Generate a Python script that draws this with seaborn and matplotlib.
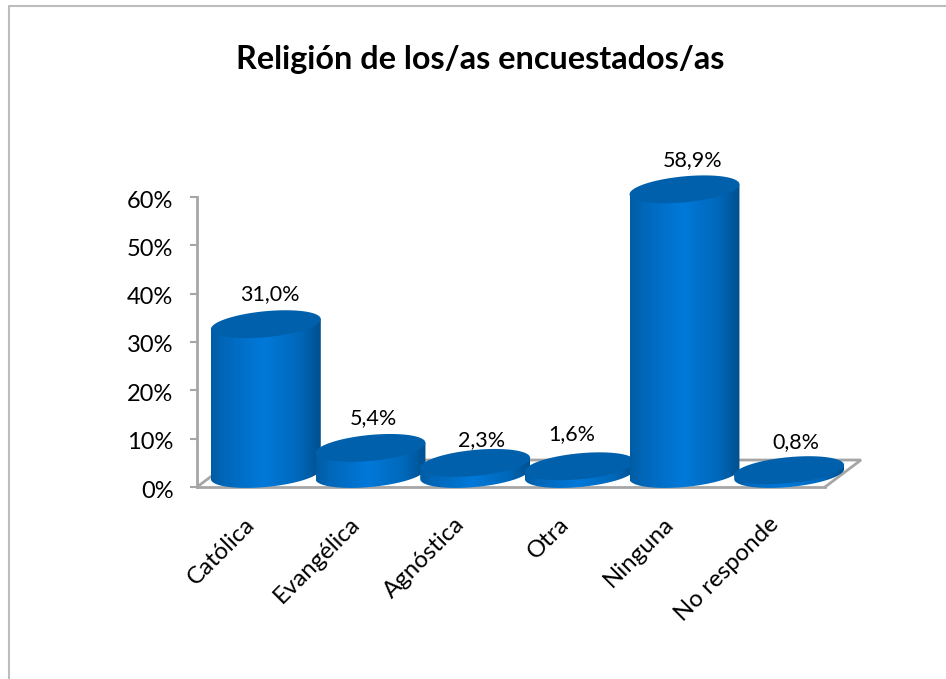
import numpy as np
import pandas as pd
import matplotlib
matplotlib.use("Agg")
import matplotlib.pyplot as plt
from matplotlib.colors import LinearSegmentedColormap
from matplotlib.lines import Line2D
from matplotlib.patches import Polygon
from matplotlib.transforms import ScaledTranslation
import seaborn as sns

# Values
categories = ["Católica", "Evangélica", "Agnóstica", "Otra", "Ninguna", "No responde"]
values = [31.0, 5.4, 2.3, 1.6, 58.9, 0.8]
value_labels = ["31,0%", "5,4%", "2,3%", "1,6%", "58,9%", "0,8%"]
y_ticks = [0, 10, 20, 30, 40, 50, 60]

sns.set_theme(style="white")
plt.rcParams["font.family"] = ["Lato", "DejaVu Sans"]

GREY = "#a6a6a6"
TOP = "#0060ac"
W, H = 946, 679

fig = plt.figure(figsize=(W / 100, H / 100), dpi=100)
ax = fig.add_axes([197 / W, 1 - 487 / H, 628 / W, 290 / H])

df = pd.DataFrame({"religion": categories, "pct": values})
sns.barplot(data=df, x="religion", y="pct", width=1.05, ax=ax)
ax.set_xlim(-0.5, 5.5)
ax.set_ylim(0, 60)

# pixels to data units
px = 6 / 628
py = 60 / 290

# depth of the 3d floor, bars stand half way in
depth_x, depth_y = 36 * px, 27 * py
shift_x, shift_y = 16.5 * px, 13 * py

# floor outline
floor_x = [-0.5, -0.5 + depth_x, 5.5 + depth_x, 5.5]
floor_y = [0, depth_y, depth_y, 0]
ax.plot(floor_x, floor_y, color=GREY, lw=2, clip_on=False, zorder=1, solid_joinstyle="miter")

shade = LinearSegmentedColormap.from_list(
    "cyl",
    [(0, "#005ca3"), (0.12, "#0067b9"), (0.48, "#0079da"), (0.8, "#0068ba"), (1, "#00508f")],
)
grad = shade(np.linspace(0, 1, 256))[None, :, :]
t = np.linspace(0, 2 * np.pi, 181)

bars = list(ax.patches)
for i, bar in enumerate(bars):
    bar.set_visible(False)
    cx = bar.get_x() + bar.get_width() / 2 + shift_x
    half = bar.get_width() / 2
    val = bar.get_height()
    low, high = shift_y, val + shift_y

    # sheared ellipse, so the cylinder looks tilted
    ex = half * np.cos(t)
    ey = (5 * np.cos(t) + 13 * np.sin(t)) * py
    under = (t >= np.pi)
    order = np.argsort(ex[under])
    body_x = np.r_[cx - half, cx + half, cx + ex[under][order][::-1]]
    body_y = np.r_[high + ey[90], high + ey[0], low + ey[under][order][::-1]]
    body = Polygon(np.c_[body_x, body_y], closed=True, fc="none", ec="none", transform=ax.transData, clip_on=False)
    ax.add_patch(body)
    im = ax.imshow(grad, extent=[cx - half, cx + half, -5, 70], aspect="auto",
                   zorder=3 + i, interpolation="bilinear")
    im.set_clip_box(fig.bbox)
    im.set_clip_path(body)
    ax.add_patch(Polygon(np.c_[cx + ex, high + ey], closed=True, fc=TOP, ec="none",
                         zorder=3 + i + 0.5, clip_on=False))

ax.set_xlim(-0.5, 5.5)
ax.set_ylim(0, 60)

# hand placed labels like in the original chart
label_dx = [4, 3, 6, -8, 8, 7]
label_dy = [30, 30, 23, 32, 29, 28]
for i, bar in enumerate(bars):
    lx = bar.get_x() + bar.get_width() / 2 + shift_x + label_dx[i] * px
    ly = bar.get_height() + shift_y + label_dy[i] * py
    ax.text(lx, ly, value_labels[i], ha="center", va="center", fontsize=15.5, color="black", zorder=20)

ax.set_yticks(y_ticks)
ax.set_yticklabels([f"{v}%" for v in y_ticks], fontsize=17, color="black")
ax.set_xticks(range(len(categories)))
ax.set_xticklabels(categories, rotation=45, ha="right", rotation_mode="anchor", fontsize=17.3, color="black")
ax.set_xlabel("")
ax.set_ylabel("")
ax.tick_params(axis="y", length=5, width=1.5, color=GREY, pad=12, left=True)
ax.tick_params(axis="x", length=0, pad=17)
sns.despine(ax=ax)
for side in ["left", "bottom"]:
    ax.spines[side].set_color(GREY)
    ax.spines[side].set_linewidth(2)
ax.patch.set_alpha(0)

# nudge tick labels a few pixels
for lab in ax.get_yticklabels():
    lab.set_transform(lab.get_transform() + ScaledTranslation(0, -2 / 100, fig.dpi_scale_trans))
for lab in ax.get_xticklabels():
    lab.set_transform(lab.get_transform() + ScaledTranslation(-5 / 100, -3 / 100, fig.dpi_scale_trans))

fig.text(480 / W, 1 - 59 / H, "Religión de los/as encuestados/as", ha="center", va="center",
         fontsize=23.3, fontweight="bold", color="black")

# chart frame, only top and left show up
fig.add_artist(Line2D([9 / W, 9 / W], [0, 1 - 6 / H], color="#bdbdbd", lw=1.5))
fig.add_artist(Line2D([9 / W, 1], [1 - 6 / H, 1 - 6 / H], color="#bdbdbd", lw=1.5))

fig.savefig("out.png", dpi=100, facecolor="white")
